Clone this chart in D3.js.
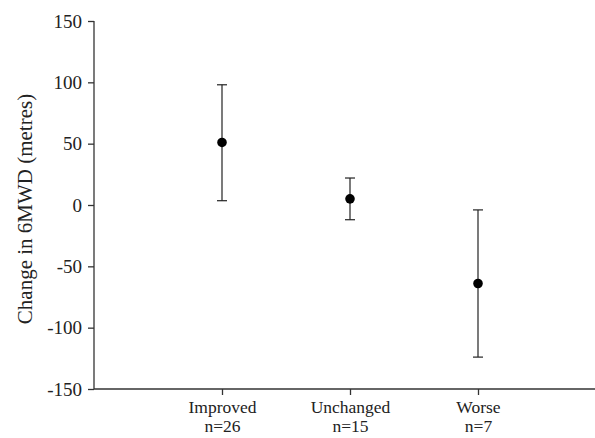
<!DOCTYPE html>
<html>
<head>
<meta charset="utf-8">
<script src="https://cdn.jsdelivr.net/npm/d3@7"></script>
<style>
  body { margin: 0; background: #fff; }
  svg { display: block; }
  .axis text { font-family: "Liberation Serif", "Times New Roman", serif; font-size: 19px; fill: #222; }
  .axis path, .axis line { stroke: #333; stroke-width: 1.3; }
  .xaxis text { font-size: 17.5px; }
</style>
</head>
<body>
<div id="chart"></div>
<script>
// data
var groups = ["Improved", "Unchanged", "Worse"];
var counts = ["n=26", "n=15", "n=7"];
var means = [51, 5, -64];
var upper = [98, 22, -4];
var lower = [3.5, -12, -124];
var yTicks = [-150, -100, -50, 0, 50, 100, 150];

var width = 595, height = 438;
var x0 = 94, y0 = 389, yTop = 21;

var svg = d3.select("#chart").append("svg")
    .attr("width", width)
    .attr("height", height);

// x: positions 1..3 on a linear scale
var xScale = d3.scaleLinear()
    .domain([0, 3.9])
    .range([x0, x0 + 3.9 * 128]);

var yScale = d3.scaleLinear()
    .domain([-150, 150])
    .range([y0, yTop]);

// y axis (plain hyphen for negatives, like the original)
svg.append("g")
    .attr("class", "axis")
    .attr("transform", "translate(" + x0 + ",0)")
    .call(d3.axisLeft(yScale)
        .tickValues(yTicks)
        .tickSize(6)
        .tickPadding(6)
        .tickFormat(function (d) { return String(d); }))
    .call(function (g) { g.select(".domain").attr("d", "M0," + yTop + "V" + y0); });

// x axis
var xAxis = svg.append("g")
    .attr("class", "axis xaxis")
    .attr("transform", "translate(0," + y0 + ")")
    .call(d3.axisBottom(xScale)
        .tickValues([1, 2, 3])
        .tickSize(6)
        .tickPadding(6)
        .tickFormat(""))
    .call(function (g) { g.select(".domain").attr("d", "M" + x0 + ",0H" + width); });

// two-line tick labels: group name + n
var tickText = xAxis.selectAll(".tick text");
tickText.append("tspan")
    .attr("x", 0)
    .text(function (d) { return groups[d - 1]; });
tickText.append("tspan")
    .attr("x", 0)
    .attr("dy", "1.06em")
    .text(function (d) { return counts[d - 1]; });

// y label
svg.append("text")
    .attr("transform", "translate(32,209) rotate(-90)")
    .attr("text-anchor", "middle")
    .style("font-family", "'Liberation Serif', 'Times New Roman', serif")
    .style("font-size", "21px")
    .style("fill", "#222")
    .text("Change in 6MWD (metres)");

// error bars
var bars = svg.append("g").selectAll("g")
    .data(groups)
    .enter().append("g")
    .attr("transform", function (d, i) { return "translate(" + xScale(i + 1) + ",0)"; });

bars.append("line")
    .attr("y1", function (d, i) { return yScale(upper[i]); })
    .attr("y2", function (d, i) { return yScale(lower[i]); })
    .attr("stroke", "#222")
    .attr("stroke-width", 1.2);

bars.append("line")
    .attr("x1", -5).attr("x2", 5)
    .attr("y1", function (d, i) { return yScale(upper[i]); })
    .attr("y2", function (d, i) { return yScale(upper[i]); })
    .attr("stroke", "#222")
    .attr("stroke-width", 1.2);

bars.append("line")
    .attr("x1", -5).attr("x2", 5)
    .attr("y1", function (d, i) { return yScale(lower[i]); })
    .attr("y2", function (d, i) { return yScale(lower[i]); })
    .attr("stroke", "#222")
    .attr("stroke-width", 1.2);

bars.append("circle")
    .attr("cy", function (d, i) { return yScale(means[i]); })
    .attr("r", 4.8)
    .attr("fill", "#000");
</script>
</body>
</html>
